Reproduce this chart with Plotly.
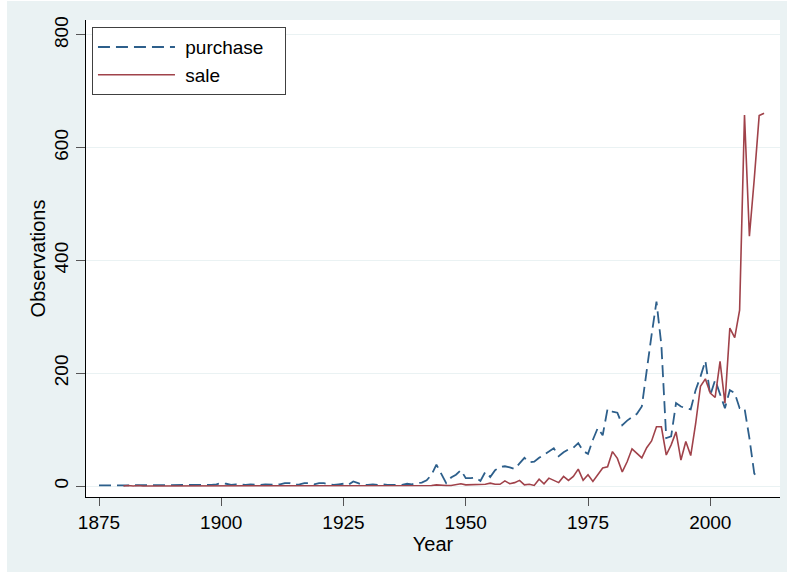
import plotly.graph_objects as go

purchase_years = list(range(1875, 2011))
purchase_values = [
    1, 1, 1, 1, 1, 1, 1, 1, 1, 2,      # 1875-1884
    1, 1, 2, 1, 2, 1, 1, 2, 1, 2,      # 1885-1894
    1, 1, 2, 2, 3, 5, 4, 2, 3, 2,      # 1895-1904
    2, 3, 2, 2, 3, 2, 2, 3, 5, 5,      # 1905-1914
    2, 3, 5, 5, 3, 5, 5, 3, 2, 3,      # 1915-1924
    4, 2, 8, 5, 2, 2, 3, 2, 3, 2,      # 1925-1934
    2, 3, 2, 4, 3, 5, 6, 10, 20, 38,   # 1935-1944
    22, 5, 15, 20, 28, 14, 14, 15, 9, 25,   # 1945-1954
    16, 28, 34, 35, 33, 30, 40, 50, 42, 43, # 1955-1964
    50, 55, 61, 67, 53, 60, 65, 68, 76, 62, # 1965-1974
    57, 82, 103, 90, 137, 132, 130, 108, 116, 122,  # 1975-1984
    128, 141, 209, 268, 327, 250, 85, 88, 147, 141, # 1985-1994
    138, 136, 170, 194, 222, 161, 188, 161, 138, 170, # 1995-2004
    165, 138, 138, 85, 22, 14,        # 2005-2010
]

sale_years = list(range(1880, 2012))
sale_values = [
    0, 1, 0, 1, 0, 0, 1, 0, 1, 0,      # 1880-1889
    0, 1, 0, 1, 0, 1, 0, 0, 1, 0,      # 1890-1899
    1, 1, 0, 1, 0, 1, 0, 1, 0, 0,      # 1900-1909
    1, 0, 1, 1, 0, 1, 0, 1, 1, 0,      # 1910-1919
    1, 1, 0, 1, 0, 1, 0, 1, 1, 0,      # 1920-1929
    1, 0, 1, 0, 1, 0, 1, 0, 1, 1,      # 1930-1939
    1, 1, 1, 1, 2, 1, 1, 1, 3, 4,      # 1940-1949
    2, 2, 2, 2, 3, 5, 3, 3, 9, 4,      # 1950-1959
    6, 10, 2, 3, 1, 12, 4, 14, 10, 6,  # 1960-1969
    17, 10, 17, 30, 10, 20, 8, 20, 32, 34,   # 1970-1979
    61, 49, 25, 43, 66, 58, 50, 68, 80, 105, # 1980-1989
    105, 55, 73, 96, 46, 79, 54, 110, 177, 190, # 1990-1999
    165, 157, 221, 147, 280, 263, 312, 658, 443, 545, # 2000-2009
    657, 661,                          # 2010-2011
]

x_ticks = [1875, 1900, 1925, 1950, 1975, 2000]
y_ticks = [0, 200, 400, 600, 800]

FONT = "Liberation Sans, Arial, Helvetica, sans-serif"
BG = "#EAF2F3"
NB = "\u00a0"

fig = go.Figure()
fig.add_trace(go.Scatter(
    x=purchase_years, y=purchase_values, mode="lines",
    name=NB + "purchase" + NB * 3,
    line=dict(color="#2d5f8b", width=1.8, dash="12px,6px"),
))
fig.add_trace(go.Scatter(
    x=sale_years, y=sale_values, mode="lines",
    name=NB + "sale",
    line=dict(color="#a0424a", width=1.6),
))

fig.update_layout(
    width=780, height=571,
    paper_bgcolor=BG, plot_bgcolor="white",
    margin=dict(l=79, r=7, t=19, b=75),
    font=dict(family=FONT, size=19, color="black"),
    showlegend=True,
    legend=dict(
        x=0.0086, y=0.985, xanchor="left", yanchor="top",
        bgcolor="white", bordercolor="#404040", borderwidth=1,
        font=dict(size=19), itemwidth=77,
    ),
    xaxis=dict(
        range=[1872.34, 2014.26], tickvals=x_ticks,
        ticks="outside", ticklen=8, tickcolor="#555",
        showline=True, linecolor="black", linewidth=1,
        showgrid=False, zeroline=False,
        title=dict(text="Year", standoff=4, font=dict(size=20)),
    ),
    yaxis=dict(
        range=[-19.5, 826.5], tickvals=y_ticks,
        ticks="outside", ticklen=9, tickcolor="#555",
        tickangle=-90,
        showline=True, linecolor="black", linewidth=1,
        showgrid=True, gridcolor=BG, gridwidth=1, zeroline=False,
        title=dict(text="Observations", standoff=0, font=dict(size=20)),
    ),
)

fig.write_html(
    "out.html",
    post_script="document.body.style.margin='1px 0 0 7px';",
)
